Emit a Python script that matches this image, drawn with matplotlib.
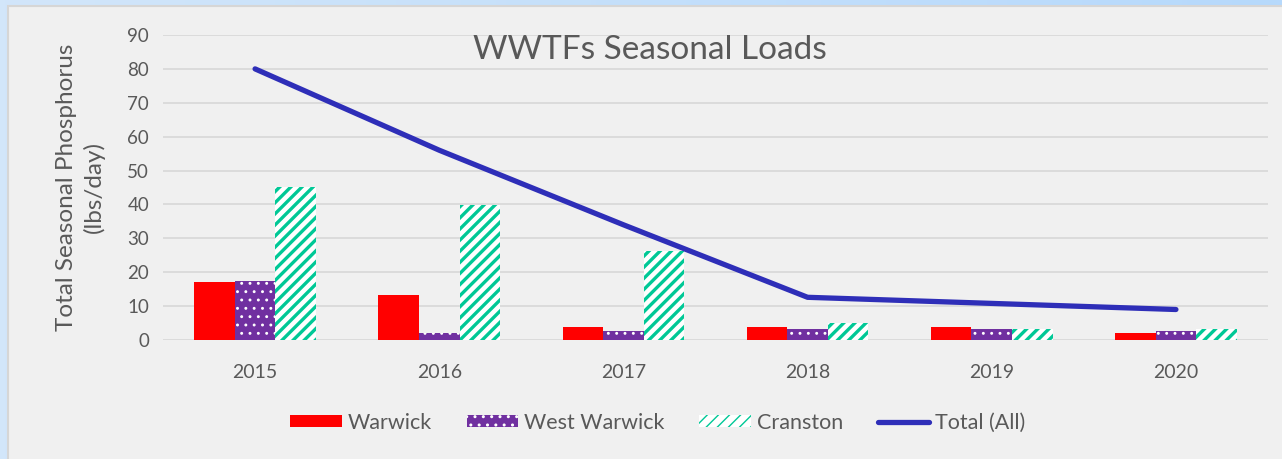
import numpy as np
import matplotlib
matplotlib.use("Agg")
import matplotlib.pyplot as plt
from matplotlib.patches import Rectangle
from matplotlib.colors import LinearSegmentedColormap

years = ["2015", "2016", "2017", "2018", "2019", "2020"]
warwick = [17.0, 13.3, 3.8, 3.8, 3.8, 2.0]
west_warwick = [17.4, 2.1, 2.7, 3.2, 3.2, 2.7]
cranston = [45.1, 39.8, 26.3, 5.0, 3.2, 3.2]
total_all = [80.0, 56.0, 34.0, 12.6, 10.8, 9.0]

plt.rcParams['font.family'] = ['Lato', 'DejaVu Sans']

text_col = "#595959"

fig = plt.figure(figsize=(12.82, 4.59), dpi=100)

# light blue backdrop behind the chart box
bg = fig.add_axes([0, 0, 1, 1], zorder=-10)
grad = LinearSegmentedColormap.from_list("bg", ["#d2e6fa", "#b6d9fc"])
bg.imshow(np.linspace(0, 1, 256).reshape(1, -1), aspect="auto", cmap=grad,
          extent=[0, 1, 0, 1])
bg.set_axis_off()
fig.patches.append(Rectangle((8 / 1282, -0.01), 1.0, 1 - 6 / 459 + 0.01,
                             transform=fig.transFigure, fc="#f0f0f0",
                             ec="#d6d6d6", lw=1.5, zorder=-5))

ax = fig.add_axes([163 / 1282, 1 - 340 / 459, 1105 / 1282, 305 / 459])
ax.set_facecolor("none")

x = np.arange(len(years))
w = 0.22
b1 = ax.bar(x - w, warwick, w, color="#ff0000", lw=0, label="Warwick",
            zorder=2)
with plt.rc_context({'hatch.linewidth': 0.9}):
    b2 = ax.bar(x, west_warwick, w, facecolor="#7030a0", edgecolor="white",
                hatch="..", lw=0, label="West Warwick", zorder=2)
with plt.rc_context({'hatch.linewidth': 2.4}):
    b3 = ax.bar(x + w, cranston, w, facecolor="white", edgecolor="#00c896",
                hatch="///", lw=0, label="Cranston", zorder=2)
ln, = ax.plot(x, total_all, color="#2e2eb8", lw=3.8, solid_capstyle="round",
              label="Total (All)", zorder=3)

ax.set_xlim(-0.5, 5.5)
ax.set_ylim(0, 90)
ax.set_yticks(range(0, 91, 10))
ax.set_xticks(x)
ax.set_xticklabels(years)
ax.yaxis.grid(True, color="#d9d9d9", lw=1.3, zorder=0)
ax.set_axisbelow(True)
for s in ax.spines.values():
    s.set_visible(False)
ax.tick_params(length=0, labelsize=13.5, colors=text_col, pad=10)
ax.tick_params(axis="x", labelsize=14, pad=17)

ax.set_ylabel("Total Seasonal Phosphorus\n(lbs/day)", fontsize=17.5,
              color=text_col, labelpad=16, linespacing=1.35)

ax.text(0.441, 0.95, "WWTFs Seasonal Loads", transform=ax.transAxes,
        ha="center", va="center", fontsize=24, color=text_col)

leg = ax.legend([b1, b2, b3, ln],
                ["Warwick", "West Warwick", "Cranston", "Total (All)"],
                loc="center", bbox_to_anchor=(0.448, -0.272), ncol=4,
                frameon=False, fontsize=15.5, handlelength=2.4,
                handleheight=0.5, handletextpad=0.28, columnspacing=1.6)
for t in leg.get_texts():
    t.set_color(text_col)

fig.savefig("out.png", dpi=100, facecolor=fig.get_facecolor())
